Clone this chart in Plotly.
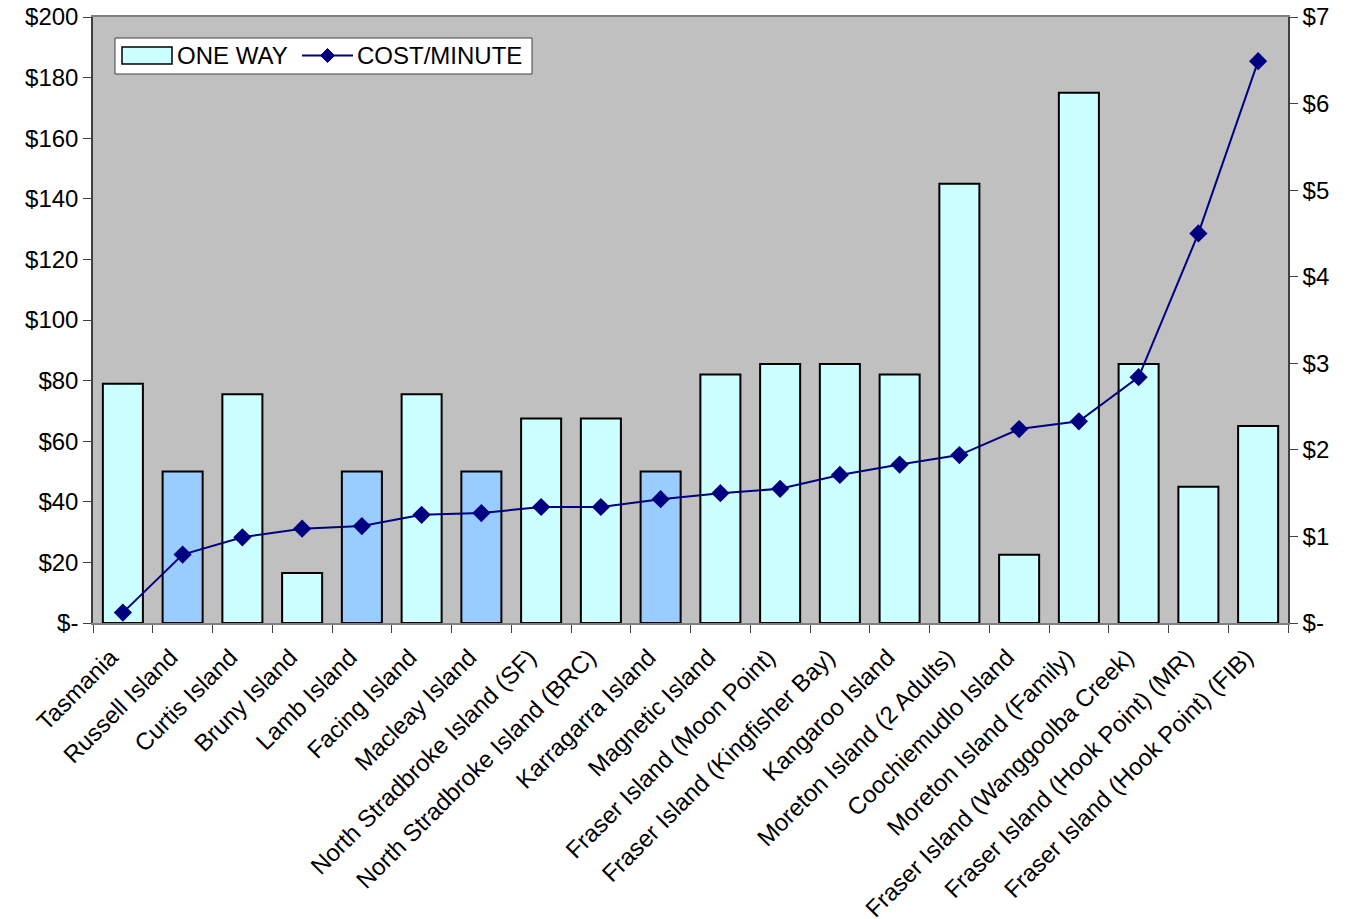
import plotly.graph_objects as go

categories = ["Tasmania", "Russell Island", "Curtis Island", "Bruny Island", "Lamb Island",
              "Facing Island", "Macleay Island", "North Stradbroke Island (SF)",
              "North Stradbroke Island (BRC)", "Karragarra Island", "Magnetic Island",
              "Fraser Island (Moon Point)", "Fraser Island (Kingfisher Bay)", "Kangaroo Island",
              "Moreton Island (2 Adults)", "Coochiemudlo Island", "Moreton Island (Family)",
              "Fraser Island (Wanggoolba Creek)", "Fraser Island (Hook Point) (MR)",
              "Fraser Island (Hook Point) (FIB)"]
one_way = [79, 50, 75.5, 16.5, 50, 75.5, 50, 67.5, 67.5, 50, 82, 85.5, 85.5, 82, 145, 22.5,
           175, 85.5, 45, 65]
cost_per_minute = [0.12, 0.79, 0.99, 1.09, 1.12, 1.25, 1.27, 1.34, 1.34, 1.43, 1.50, 1.55,
                   1.71, 1.83, 1.94, 2.24, 2.33, 2.84, 4.50, 6.49]
highlighted = ["Russell Island", "Lamb Island", "Macleay Island", "Karragarra Island"]

left_ticks = [0, 20, 40, 60, 80, 100, 120, 140, 160, 180, 200]
left_labels = ["$-"] + ["$%d" % v for v in left_ticks[1:]]
right_ticks = [0, 1, 2, 3, 4, 5, 6, 7]
right_labels = ["$-"] + ["$%d" % v for v in right_ticks[1:]]

CYAN = "#CCFFFF"
BLUE = "#99CCFF"
NAVY = "#000080"
AXIS = "#404040"
bar_colors = [BLUE if c in highlighted else CYAN for c in categories]

W, H = 1354, 919
ML, MR, MT, MB = 93, 66, 17, 296
PW, PH = W - ML - MR, H - MT - MB
N = len(categories)
boundaries = [i - 0.5 for i in range(N + 1)]


def px_x(px):
    return (px - ML) / PW


def px_y(py):
    return (H - MB - py) / PH


fig = go.Figure()
fig.add_trace(go.Bar(
    x=categories, y=one_way, name="ONE WAY",
    marker=dict(color=bar_colors, line=dict(color="black", width=2)),
    yaxis="y", showlegend=False,
))
fig.add_trace(go.Scatter(
    x=categories, y=cost_per_minute, name="COST/MINUTE", mode="lines+markers",
    line=dict(color=NAVY, width=2),
    marker=dict(symbol="diamond", size=14, color=NAVY),
    yaxis="y2", showlegend=False,
))

font = dict(family="Liberation Sans, Arial, sans-serif", size=24, color="black")

# manual legend (box, swatches, labels)
shapes = [
    dict(type="rect", xref="paper", yref="paper",
         x0=px_x(115), x1=px_x(532), y0=px_y(74), y1=px_y(38),
         fillcolor="white", line=dict(color=AXIS, width=1)),
    dict(type="rect", xref="paper", yref="paper",
         x0=px_x(122), x1=px_x(172), y0=px_y(64), y1=px_y(47),
         fillcolor=CYAN, line=dict(color="black", width=1.5)),
    dict(type="line", xref="paper", yref="paper",
         x0=px_x(302), x1=px_x(353), y0=px_y(55.5), y1=px_y(55.5),
         line=dict(color=NAVY, width=2)),
    dict(type="path", xref="paper", yref="paper",
         path="M %f,%f L %f,%f L %f,%f L %f,%f Z" % (
             px_x(327.5), px_y(48.5), px_x(334.5), px_y(55.5),
             px_x(327.5), px_y(62.5), px_x(320.5), px_y(55.5)),
         fillcolor=NAVY, line=dict(color=NAVY, width=1)),
]
annotations = [
    dict(text="ONE WAY", xref="paper", yref="paper", x=px_x(175), y=px_y(56),
         xanchor="left", yanchor="middle", showarrow=False, font=font),
    dict(text="COST/MINUTE", xref="paper", yref="paper", x=px_x(355), y=px_y(56),
         xanchor="left", yanchor="middle", showarrow=False, font=font),
]

fig.update_layout(
    width=W, height=H,
    margin=dict(l=ML, r=MR, t=MT, b=MB, autoexpand=False),
    paper_bgcolor="white", plot_bgcolor="#C0C0C0",
    font=font,
    bargap=0.33,
    showlegend=False,
    shapes=shapes,
    annotations=annotations,
    xaxis=dict(type="category", range=[-0.5, N - 0.5], tickangle=-45,
               showgrid=False, showline=True, automargin=False,
               linecolor="#808080", linewidth=1.5, mirror=True,
               ticks="outside", tickson="boundaries", ticklen=8, tickcolor=AXIS,
               ticklabelstandoff=9, ticklabelshift=-12, tickfont=dict(size=24)),
    # companion axis drawing the inner half of the crossing tick marks
    xaxis2=dict(overlaying="x", anchor="y", range=[-0.5, N - 0.5], tickvals=boundaries,
                ticks="inside", ticklen=8, tickcolor=AXIS, showticklabels=False,
                showgrid=False, showline=False, zeroline=False, side="bottom"),
    yaxis=dict(range=[0, 200], tickvals=left_ticks, ticktext=left_labels,
               showgrid=False, showline=True, linecolor=AXIS, linewidth=1.5,
               automargin=False,
               ticks="outside", ticklen=8, tickcolor=AXIS, zeroline=False,
               tickfont=dict(size=24)),
    yaxis2=dict(range=[0, 7], tickvals=right_ticks, ticktext=right_labels,
                overlaying="y", side="right", showgrid=False, showline=True,
                automargin=False,
                linecolor=AXIS, linewidth=1.5, ticks="outside", ticklen=8,
                tickcolor=AXIS, zeroline=False, tickfont=dict(size=24)),
    yaxis3=dict(range=[0, 200], tickvals=left_ticks, overlaying="y", side="left",
                anchor="x", ticks="inside", ticklen=8, tickcolor=AXIS,
                showticklabels=False, showgrid=False, showline=False, zeroline=False),
    yaxis4=dict(range=[0, 7], tickvals=right_ticks, overlaying="y", side="right",
                anchor="x", ticks="inside", ticklen=8, tickcolor=AXIS,
                showticklabels=False, showgrid=False, showline=False, zeroline=False),
)

fig.write_html("out.html")
